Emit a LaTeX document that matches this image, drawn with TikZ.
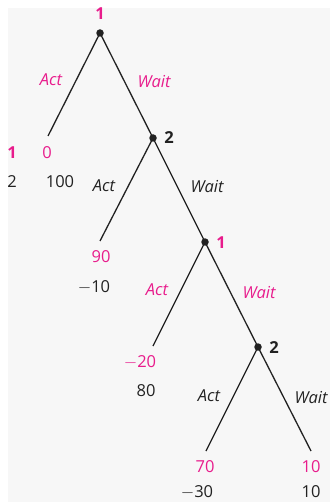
\documentclass[tikz,border=0pt]{standalone}
\usepackage{fontspec}
\setmainfont{Open Sans}
\definecolor{mag}{RGB}{232,28,140}
\definecolor{ink}{RGB}{34,34,34}
\definecolor{bg}{RGB}{247,247,247}
\newcommand{\fs}{\fontsize{16.5}{16.5}\selectfont}
\begin{document}
\begin{tikzpicture}[x=1pt,y=-1pt,
  every node/.style={inner sep=0pt,font=\fs},
  br/.style={line width=1.3pt,ink},
  dot/.style={circle,fill=ink,minimum size=7.5pt,inner sep=0pt},
  pm/.style={text=mag},
  pk/.style={text=ink},
  lm/.style={text=mag,font=\fs\itshape},
  lk/.style={text=ink,font=\fs\itshape},
  nm/.style={text=mag,font=\fs\bfseries},
  nk/.style={text=ink,font=\fs\bfseries}]
\useasboundingbox (0,0) rectangle (330,502);
\fill[white] (0,0) rectangle (330,502);
\fill[bg] (8,8) rectangle (330,502);
% decision nodes
\node[dot] (n1) at (100,33) {};
\node[dot] (n2) at (153,138) {};
\node[dot] (n3) at (205,242) {};
\node[dot] (n4) at (258,347) {};
% terminal ends
\coordinate (t1) at (48,136);
\coordinate (t2) at (100,241);
\coordinate (t3) at (153,346);
\coordinate (t4) at (206,451);
\coordinate (t5) at (311,451);
% branches
\draw[br] (n1.center) -- (t1);
\draw[br] (n1.center) -- (n2.center);
\draw[br] (n2.center) -- (t2);
\draw[br] (n2.center) -- (n3.center);
\draw[br] (n3.center) -- (t3);
\draw[br] (n3.center) -- (n4.center);
\draw[br] (n4.center) -- (t4);
\draw[br] (n4.center) -- (t5);
% player labels
\node[nm] (p1) at (100,14) {1};
\node[nk] (p2) at (169,138) {2};
\node[nm] (p3) at (221,243) {1};
\node[nk] (p4) at (274,348) {2};
% action labels
\node[lm] (a1) at (51,80) {Act};
\node[lm] (w1) at (154,82) {Wait};
\node[lk] (a2) at (104,186) {Act};
\node[lk] (w2) at (207,187) {Wait};
\node[lm] (a3) at (157,290) {Act};
\node[lm] (w3) at (259,293) {Wait};
\node[lk] (a4) at (209,396) {Act};
\node[lk] (w4) at (311,398) {Wait};
% legend
\node[pm,font=\fs\bfseries] (l1) at (12,153) {1};
\node[pk] (l2) at (12,182) {2};
% payoffs
\node[pm] (u1) at (47,153) {0};
\node[pk] (v1) at (60,182) {100};
\node[pm] (u2) at (101,257) {90};
\node[pk] (v2) at (94,287) {$-$10};
\node[pm] (u3) at (140,362) {$-$20};
\node[pk] (v3) at (146,391) {80};
\node[pm] (u4) at (205,467) {70};
\node[pk] (v4) at (197,492) {$-$30};
\node[pm] (u5) at (311,467) {10};
\node[pk] (v5) at (311,492) {10};
\end{tikzpicture}
\end{document}
